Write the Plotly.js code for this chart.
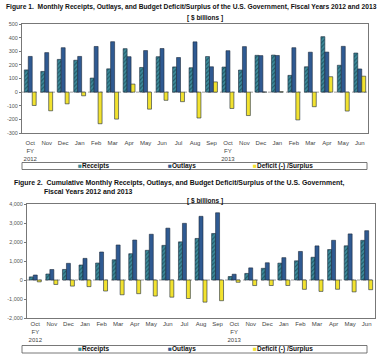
<!DOCTYPE html>
<html><head><meta charset="utf-8">
<script src="https://cdn.plot.ly/plotly-3.0.1.min.js"></script>
<style>html,body{margin:0;padding:0;background:#fff}#c{width:384px;height:363px}</style>
</head><body><div id="c"></div>
<script>
// ---- DATA ----
const monthLabels = ["Oct<br>FY<br>2012","Nov","Dec","Jan","Feb","Mar","Apr","May","Jun","Jul","Aug","Sep",
                     "Oct<br>FY<br>2013","Nov","Dec","Jan","Feb","Mar","Apr","May","Jun"];
const receipts = [163,152,240,234,103,171,319,181,260,185,179,261,184,162,270,272,123,186,407,197,287];
const outlays  = [262,290,326,262,335,370,260,305,320,254,369,186,304,334,268,269,326,293,294,336,170];
const deficit  = [-98,-137,-86,-27,-232,-198,59,-125,-60,-70,-190,75,-120,-172,1,3,-204,-107,113,-139,117];

const cumReceipts = [163,316,555,789,893,1064,1383,1563,1823,2008,2187,2449,184,346,615,888,1010,1196,1603,1800,2087];
const cumOutlays  = [262,551,877,1138,1473,1843,2103,2408,2728,2982,3351,3538,304,638,907,1176,1502,1795,2089,2425,2595];
const cumDeficit  = [-98,-235,-321,-349,-580,-778,-720,-844,-904,-974,-1165,-1089,-120,-292,-291,-288,-491,-600,-488,-626,-510];

const yTicks1 = [-300,-200,-100,0,100,200,300,400,500];
const yTickText1 = ["-300","-200","-100","0","100","200","300","400","500"];
const yTicks2 = [-2000,-1000,0,1000,2000,3000,4000];
const yTickText2 = ["-2,000","-1,000","0","1,000","2,000","3,000","4,000"];
const seriesNames = ["Receipts","Outlays","Deficit (-) /Surplus"];

// ---- CHART ----
const W = 384, H = 363;
const px = v => v / W, py = v => 1 - v / H;
const idx = monthLabels.map((_, i) => i);
const edge = {color: '#1c2a3d', width: 0.6};
const cR = '#3d8a9a', cO = '#2f5a92', cD = '#f2e22f';

function bars(xa, ya, r, o, d) {
  return [
    {type:'bar', x: idx, y: r, xaxis: xa, yaxis: ya, name: seriesNames[0], showlegend:false,
     marker:{color: cR, line: edge, pattern:{shape:'/', fgcolor:'#1f5866', bgcolor: cR, size:3, solidity:0.35}}},
    {type:'bar', x: idx, y: o, xaxis: xa, yaxis: ya, name: seriesNames[1], showlegend:false,
     marker:{color: cO, line: edge}},
    {type:'bar', x: idx, y: d, xaxis: xa, yaxis: ya, name: seriesNames[2], showlegend:false,
     marker:{color: cD, line: edge}}
  ];
}
const data = [...bars('x','y',receipts,outlays,deficit), ...bars('x2','y2',cumReceipts,cumOutlays,cumDeficit)];

const font = 'Liberation Sans, Arial, sans-serif';
const xCommon = {tickvals: idx, ticktext: monthLabels, range:[-0.5,20.5], ticks:'', showgrid:false, zeroline:false,
  showline:true, mirror:true, linecolor:'#777', linewidth:1, tickfont:{size:6, color:'#444', family:font}, fixedrange:true};
const yCommon = {showgrid:false, zeroline:false, showline:true, mirror:true, linecolor:'#777', linewidth:1,
  ticks:'outside', ticklen:2, tickcolor:'#777', tickfont:{size:5.5, color:'#555', family:font}, fixedrange:true};

const layout = {
  width: W, height: H, margin:{l:0,r:0,t:0,b:0}, paper_bgcolor:'#fff', plot_bgcolor:'#fff',
  barmode:'group', bargap:0.28, bargroupgap:0, showlegend:false, font:{family:font},
  xaxis: Object.assign({}, xCommon, {domain:[px(22), px(368)], anchor:'y', ticklabelstandoff:4}),
  yaxis: Object.assign({}, yCommon, {domain:[py(133), py(24)], range:[-300,500], tickvals:yTicks1, ticktext:yTickText1, anchor:'x'}),
  xaxis2: Object.assign({}, xCommon, {domain:[px(27), px(375)], anchor:'y2', ticklabelstandoff:0}),
  yaxis2: Object.assign({}, yCommon, {domain:[py(318), py(204)], range:[-2000,4000], tickvals:yTicks2, ticktext:yTickText2, anchor:'x2'}),
  shapes: [
    {type:'line', xref:'x', yref:'y', x0:-0.5, x1:20.5, y0:0, y1:0, line:{color:'#888', width:0.8, dash:'dot'}, layer:'below'},
    {type:'line', xref:'x2', yref:'y2', x0:-0.5, x1:20.5, y0:0, y1:0, line:{color:'#888', width:0.8, dash:'dot'}, layer:'below'},
    {type:'rect', xref:'paper', yref:'paper', x0:px(22), x1:px(367), y0:py(169.5), y1:py(162.5), line:{color:'#555', width:0.8}},
    {type:'rect', xref:'paper', yref:'paper', x0:px(22), x1:px(367), y0:py(353), y1:py(345.5), line:{color:'#555', width:0.8}}
  ],
  annotations: []
};

function ann(x, y, text, size, opts) {
  return Object.assign({xref:'paper', yref:'paper', x:px(x), y:py(y), text, showarrow:false,
    xanchor:'center', yanchor:'middle', font:{size, color:'#111', family:font}}, opts || {});
}
const A = layout.annotations;
A.push(ann(191, 7, '<b>Figure 1.  Monthly Receipts, Outlays, and Budget Deficit/Surplus of the U.S. Government, Fiscal Years 2012 and 2013</b>', 6.7));
A.push(ann(205, 18, '<b>[ $ billions ]</b>', 6.5));
A.push(ann(12, 183, '<b>Figure 2.  Cumulative Monthly Receipts, Outlays, and Budget Deficit/Surplus of the U.S. Government,</b>', 6.9, {xanchor:'left'}));
A.push(ann(42, 191.5, '<b>Fiscal Years 2012 and 2013</b>', 6.9, {xanchor:'left'}));
A.push(ann(205, 200.5, '<b>[ $ billions ]</b>', 6.5));

const legColors = [cR, cO, cD];
const legX = [93, 182, 283];
[166, 349.3].forEach(yy => {
  seriesNames.forEach((n, i) => {
    A.push(ann(legX[i], yy, '<span style="color:' + legColors[i] + '">■</span><b>' + n + '</b>', 6.5));
  });
});

Plotly.newPlot('c', data, layout, {displayModeBar:false, staticPlot:true});
</script></body></html>
